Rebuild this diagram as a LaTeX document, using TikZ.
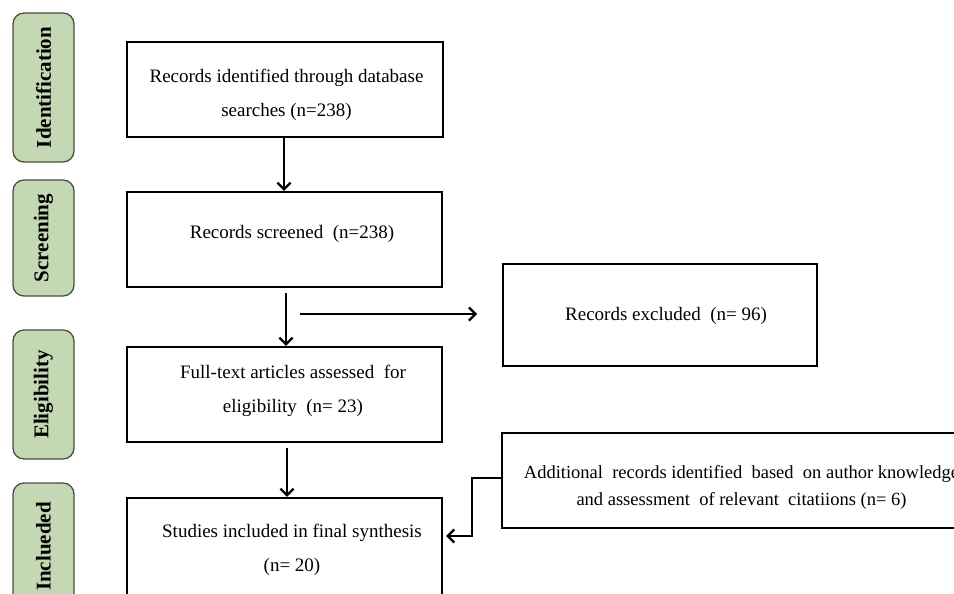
\documentclass[tikz,border=0pt]{standalone}
\usepackage{fontspec}
\setmainfont{Liberation Serif}
\usetikzlibrary{arrows.meta,calc}
\definecolor{pillfill}{RGB}{197,216,180}
\definecolor{pilldraw}{RGB}{72,82,66}
\begin{document}
\begin{tikzpicture}[x=1pt,y=-1pt,
  box/.style={draw=black, line width=2.4pt, inner sep=0pt, rectangle},
  pill/.style={draw=pilldraw, fill=pillfill, line width=1.3pt, rounded corners=11pt,
    rotate=90, minimum height=61pt, inner sep=0pt,
    font=\fontsize{21}{25}\selectfont\bfseries},
  txt/.style={align=center, font=\fontsize{19}{34}\selectfont, inner sep=0pt},
  txtb/.style={align=center, font=\fontsize{18.5}{27}\selectfont, inner sep=0pt},
  arr/.style={line width=2.2pt, -{Straight Barb[length=6.5pt,width=13pt,line width=2.2pt]}}]
\useasboundingbox (0,0) rectangle (954,594);
\fill[white] (0,0) rectangle (954,594);
\clip (0,0) rectangle (954,594);

% stage pills
\node[pill, minimum width=149pt] (p1) at (43.5,87.5) {Identification};
\node[pill, minimum width=116pt] (p2) at (43.5,238) {Screening};
\node[pill, minimum width=129pt] (p3) at (43.5,394.5) {Eligibility};
\node[pill, minimum width=127pt] (p4) at (43.5,546.5) {Inclueded};

% boxes
\node[box, minimum width=316pt, minimum height=95pt] (b1) at (285,89.5) {};
\node[box, minimum width=315pt, minimum height=95pt] (b2) at (284.5,239.5) {};
\node[box, minimum width=315pt, minimum height=95pt] (b3) at (284.5,394.5) {};
\node[box, minimum width=315pt, minimum height=100pt] (b4) at (284.5,548) {};
\node[box, minimum width=314pt, minimum height=102pt] (ex) at (660,315) {};
\node[box, minimum width=470pt, minimum height=95pt] (ad) at (737,480.5) {};

% texts
\node[txt] (t1) at ($(b1.center)+(1.5,5.5)$) {Records identified through database\\searches (n=238)};
\node[txt] (t2) at ($(b2.center)+(7.5,-5.5)$) {Records screened\ \ (n=238)};
\node[txt] (t3) at ($(b3.center)+(8.5,-3.5)$) {Full-text articles assessed\ \ for\\eligibility\ \ (n= 23)};
\node[txt] (t4) at ($(b4.center)+(7.5,1.5)$) {Studies included in final synthesis\\(n= 20)};
\node[txt] (t5) at ($(ex.center)+(6,1)$) {Records excluded\ \ (n= 96)};
\node[txtb] (t6) at ($(ad.center)+(4.5,6.5)$) {Additional\ \ records identified\ \ based\ \ on author knowledge\\and assessment\ \ of relevant\ \ citatiions (n= 6)};

% connectors
\coordinate (h1) at (300,314);
\coordinate (h2) at (477,314);
\draw[arr] ($(b1.south)+(-1,0)$) -- ($(b2.north)+(-0.5,0)$);
\draw[arr] ($(b2.south)+(1.5,5)$) -- ($(b3.north)+(1.5,0)$);
\draw[arr] (h1) -- (h2);
\draw[arr] ($(b3.south)+(2.5,5)$) -- ($(b4.north)+(2.5,0)$);
\draw[arr] ($(ad.west)+(0,-2.5)$) -- ++(-29,0) |- ($(b4.east)+(3,-12)$);
\end{tikzpicture}
\end{document}
